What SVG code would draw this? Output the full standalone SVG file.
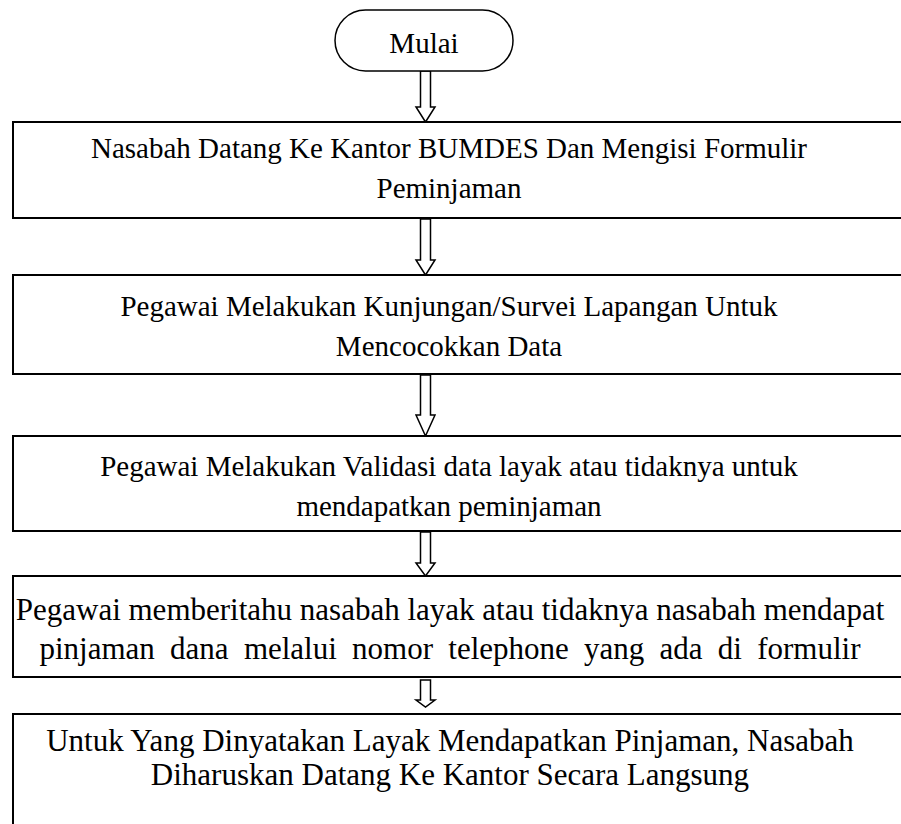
<svg xmlns="http://www.w3.org/2000/svg" width="901" height="824" viewBox="0 0 901 824">
  <style>
    .box { fill: #ffffff; stroke: #000000; stroke-width: 2; }
    .term { fill: #ffffff; stroke: #000000; stroke-width: 1.5; }
    .arrow { fill: #ffffff; stroke: #000000; stroke-width: 1.5; stroke-linejoin: miter; }
    text { font-family: "Liberation Serif", "Times New Roman", serif; font-size: 29px; fill: #000000; text-anchor: middle; }
    .big { font-size: 31px; }
  </style>
  <rect width="901" height="824" fill="#ffffff"/>

  <!-- hollow block arrows between steps -->
  <g id="connectors">
    <path class="arrow" d="M420.5,71 V107 H416 L425.5,122 L435,107 H430.5 V71 Z"/>
    <path class="arrow" d="M420.5,219 V260 H416 L425.5,275 L435,260 H430.5 V219 Z"/>
    <path class="arrow" d="M420.5,375 V415 H416 L425.5,436 L435,415 H430.5 V375 Z"/>
    <path class="arrow" d="M420.5,532 V563 H416 L425.5,576 L435,563 H430.5 V532 Z"/>
    <path class="arrow" d="M420.5,680 V700 H416 L425.5,707 L435,700 H430.5 V680 Z"/>
  </g>

  <g id="start">
    <rect class="term" x="335" y="10" width="178" height="61" rx="30.5" ry="30.5"/>
    <text x="424" y="53">Mulai</text>
  </g>

  <g id="step1">
    <rect class="box" x="13" y="122" width="900" height="96"/>
    <text x="449" y="158">Nasabah Datang Ke Kantor BUMDES Dan Mengisi Formulir</text>
    <text x="449" y="198">Peminjaman</text>
  </g>

  <g id="step2">
    <rect class="box" x="13" y="275" width="900" height="99"/>
    <text x="449" y="316">Pegawai Melakukan Kunjungan/Survei Lapangan Untuk</text>
    <text x="449" y="356">Mencocokkan Data</text>
  </g>

  <g id="step3">
    <rect class="box" x="13" y="436" width="900" height="95"/>
    <text x="449" y="476">Pegawai Melakukan Validasi data layak atau tidaknya untuk</text>
    <text x="449" y="516">mendapatkan peminjaman</text>
  </g>

  <g id="step4">
    <rect class="box" x="13" y="576" width="900" height="101"/>
    <text class="big" x="450" y="620">Pegawai memberitahu nasabah layak atau tidaknya nasabah mendapat</text>
    <text class="big" x="450" y="659" word-spacing="7.5">pinjaman dana melalui nomor telephone yang ada di formulir</text>
  </g>

  <g id="step5">
    <rect class="box" x="13" y="714" width="900" height="130"/>
    <text class="big" x="450" y="751">Untuk Yang Dinyatakan Layak Mendapatkan Pinjaman, Nasabah</text>
    <text class="big" x="450" y="785">Diharuskan Datang Ke Kantor Secara Langsung</text>
  </g>
</svg>
